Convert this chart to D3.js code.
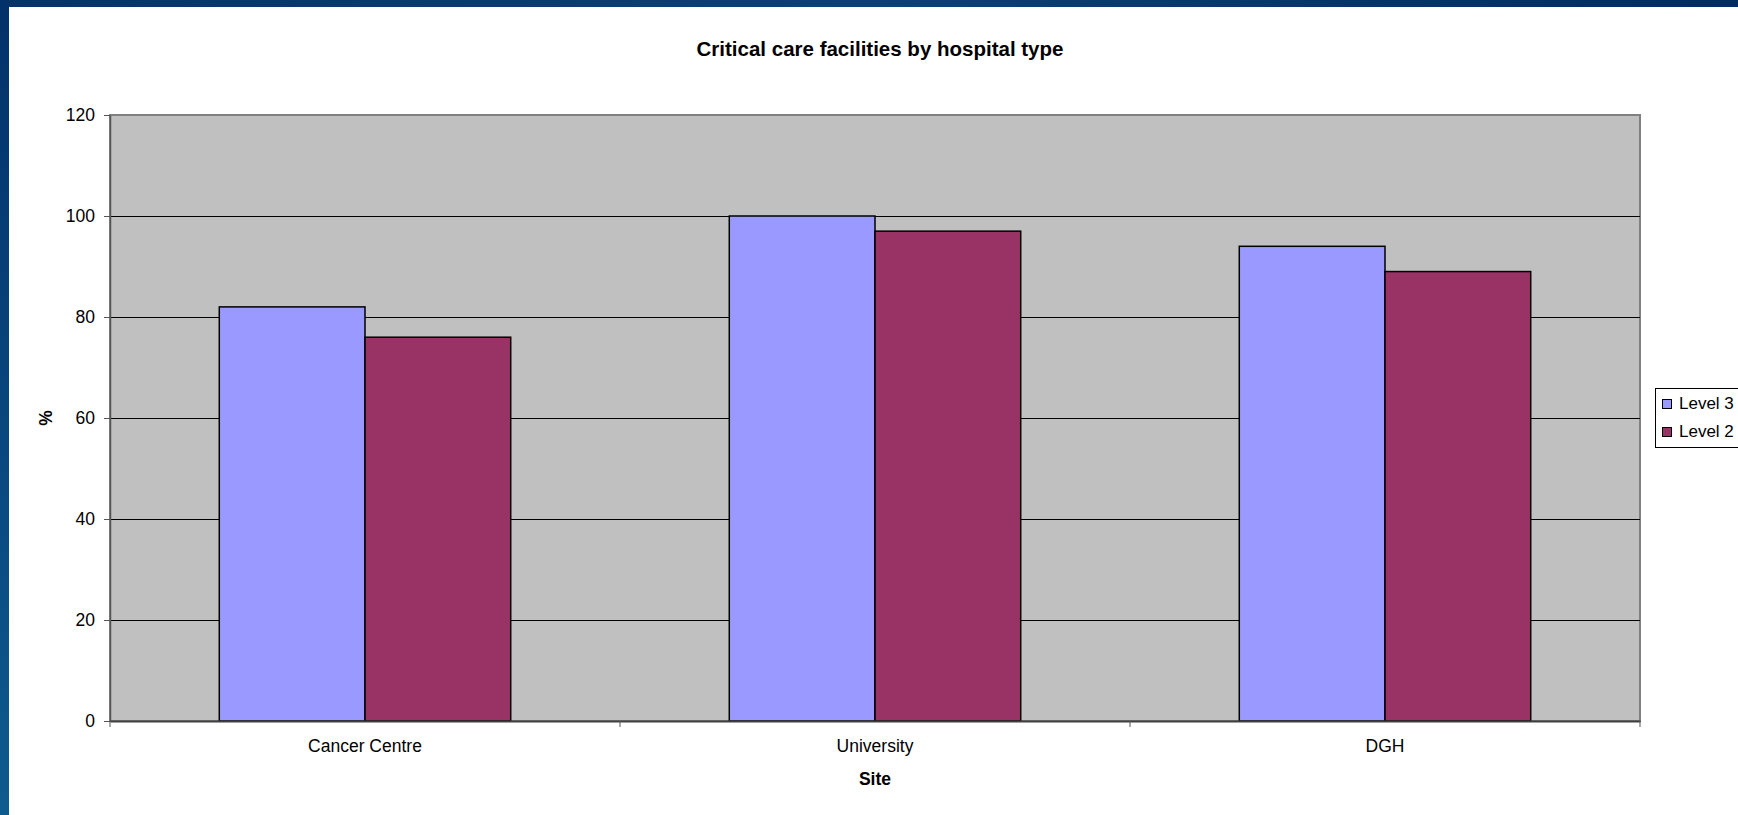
<!DOCTYPE html>
<html>
<head>
<meta charset="utf-8">
<script src="https://cdn.jsdelivr.net/npm/d3@7"></script>
<style>
  html, body { margin: 0; padding: 0; background: #ffffff; }
  svg { display: block; }
  text { font-family: "Liberation Sans", Arial, sans-serif; fill: #000; }
</style>
</head>
<body>
<svg id="chart" width="1738" height="815"></svg>
<script>
// Chart data
const categories = ["Cancer Centre", "University", "DGH"];
const seriesNames = ["Level 3", "Level 2"];
const level3 = [82, 100, 94];
const level2 = [76, 97, 89];
const yTicks = [0, 20, 40, 60, 80, 100, 120];
const seriesColors = ["#9999ff", "#993366"];

const values = [level3, level2];
const rows = categories.map((c, i) => ({
  category: c,
  bars: seriesNames.map((s, j) => ({ series: s, value: values[j][i], color: seriesColors[j] }))
}));

const W = 1738, H = 815;
const plot = { left: 110, top: 115, right: 1640, bottom: 721 };

const svg = d3.select("#chart");

// Slide-style blue frame around the white panel
const defs = svg.append("defs");
const gTop = defs.append("linearGradient").attr("id", "frameTop").attr("x1", "0").attr("x2", "1").attr("y1", "0").attr("y2", "0");
gTop.append("stop").attr("offset", "0").attr("stop-color", "#06346a");
gTop.append("stop").attr("offset", "0.5").attr("stop-color", "#0c4078");
gTop.append("stop").attr("offset", "1").attr("stop-color", "#002c62");
const gLeft = defs.append("linearGradient").attr("id", "frameLeft").attr("x1", "0").attr("x2", "0").attr("y1", "0").attr("y2", "1");
gLeft.append("stop").attr("offset", "0").attr("stop-color", "#03316a");
gLeft.append("stop").attr("offset", "1").attr("stop-color", "#0e5b8e");

svg.append("rect").attr("x", 0).attr("y", 0).attr("width", W).attr("height", H).attr("fill", "#ffffff");
svg.append("rect").attr("x", 0).attr("y", 0).attr("width", W).attr("height", 7).attr("fill", "url(#frameTop)");
svg.append("rect").attr("x", 0).attr("y", 0).attr("width", 9).attr("height", H).attr("fill", "url(#frameLeft)");

// Scales
const x0 = d3.scaleBand().domain(categories).range([plot.left, plot.right]).padding(0);
const x1 = d3.scaleBand().domain(seriesNames).range([0, x0.bandwidth()]).paddingInner(0).paddingOuter(0.75);
const y = d3.scaleLinear().domain([0, 120]).range([plot.bottom, plot.top]);

// Plot background
svg.append("rect")
  .attr("x", plot.left).attr("y", plot.top)
  .attr("width", plot.right - plot.left).attr("height", plot.bottom - plot.top)
  .attr("fill", "#c0c0c0").attr("stroke", "#808080").attr("stroke-width", 2);

// Horizontal gridlines
svg.append("g")
  .selectAll("line")
  .data(yTicks.filter(t => t > 0 && t < 120))
  .join("line")
  .attr("x1", plot.left).attr("x2", plot.right)
  .attr("y1", d => Math.round(y(d)) + 0.5).attr("y2", d => Math.round(y(d)) + 0.5)
  .attr("stroke", "#000").attr("stroke-width", 1);

// Bars
const groups = svg.append("g").selectAll("g")
  .data(rows)
  .join("g")
  .attr("transform", d => `translate(${x0(d.category)},0)`);

groups.selectAll("rect")
  .data(d => d.bars)
  .join("rect")
  .attr("x", d => x1(d.series))
  .attr("y", d => y(d.value))
  .attr("width", x1.bandwidth())
  .attr("height", d => y(0) - y(d.value))
  .attr("fill", d => d.color)
  .attr("stroke", "#000")
  .attr("stroke-width", 1.5);

// Y axis
const yAxis = svg.append("g")
  .attr("transform", `translate(${plot.left},0)`)
  .call(d3.axisLeft(y).tickValues(yTicks).tickSize(6).tickPadding(9).tickSizeOuter(0));
yAxis.select(".domain").attr("stroke", "#555").attr("stroke-width", 1.5);
yAxis.selectAll(".tick line").attr("stroke", "#555");
yAxis.selectAll(".tick text")
  .attr("font-size", 17.5)
  .attr("font-family", "'Liberation Sans', Arial, sans-serif")
  .attr("fill", "#000");

// X axis: ticks at category boundaries
const boundaries = categories.map(c => x0(c)).concat([x0(categories[categories.length - 1]) + x0.bandwidth()]);
const xAxis = svg.append("g")
  .attr("transform", `translate(0,${plot.bottom})`)
  .call(d3.axisBottom(x0).tickSize(0).tickPadding(19).tickSizeOuter(0));
xAxis.select(".domain").attr("stroke", "#404040").attr("stroke-width", 2);
xAxis.selectAll(".tick text")
  .attr("font-size", 17.5)
  .attr("font-family", "'Liberation Sans', Arial, sans-serif")
  .attr("fill", "#000");
xAxis.append("g").selectAll("line")
  .data(boundaries)
  .join("line")
  .attr("x1", d => d).attr("x2", d => d)
  .attr("y1", 0).attr("y2", 6)
  .attr("stroke", "#555").attr("stroke-width", 1);

// Title
svg.append("text")
  .attr("x", 880).attr("y", 56)
  .attr("text-anchor", "middle")
  .attr("font-size", 20.5).attr("font-weight", "bold")
  .text("Critical care facilities by hospital type");

// Axis titles
svg.append("text")
  .attr("x", (plot.left + plot.right) / 2).attr("y", 785)
  .attr("text-anchor", "middle")
  .attr("font-size", 17.5).attr("font-weight", "bold")
  .text("Site");

svg.append("text")
  .attr("transform", `translate(52,${(plot.top + plot.bottom) / 2}) rotate(-90)`)
  .attr("text-anchor", "middle")
  .attr("font-size", 17.5).attr("font-weight", "bold")
  .text("%");

// Legend
const legend = svg.append("g").attr("transform", "translate(1655,388)");
legend.append("rect")
  .attr("x", 0.5).attr("y", 0.5).attr("width", 120).attr("height", 59)
  .attr("fill", "#fff").attr("stroke", "#000").attr("stroke-width", 1);
const items = legend.selectAll("g.item")
  .data(seriesNames.map((s, i) => ({ name: s, color: seriesColors[i] })))
  .join("g").attr("class", "item")
  .attr("transform", (d, i) => `translate(7,${11 + i * 28})`);
items.append("rect")
  .attr("x", 0.5).attr("y", 0.5).attr("width", 9).attr("height", 9)
  .attr("fill", d => d.color).attr("stroke", "#000").attr("stroke-width", 1);
items.append("text")
  .attr("x", 17).attr("y", 10)
  .attr("font-size", 17)
  .text(d => d.name);
</script>
</body>
</html>
